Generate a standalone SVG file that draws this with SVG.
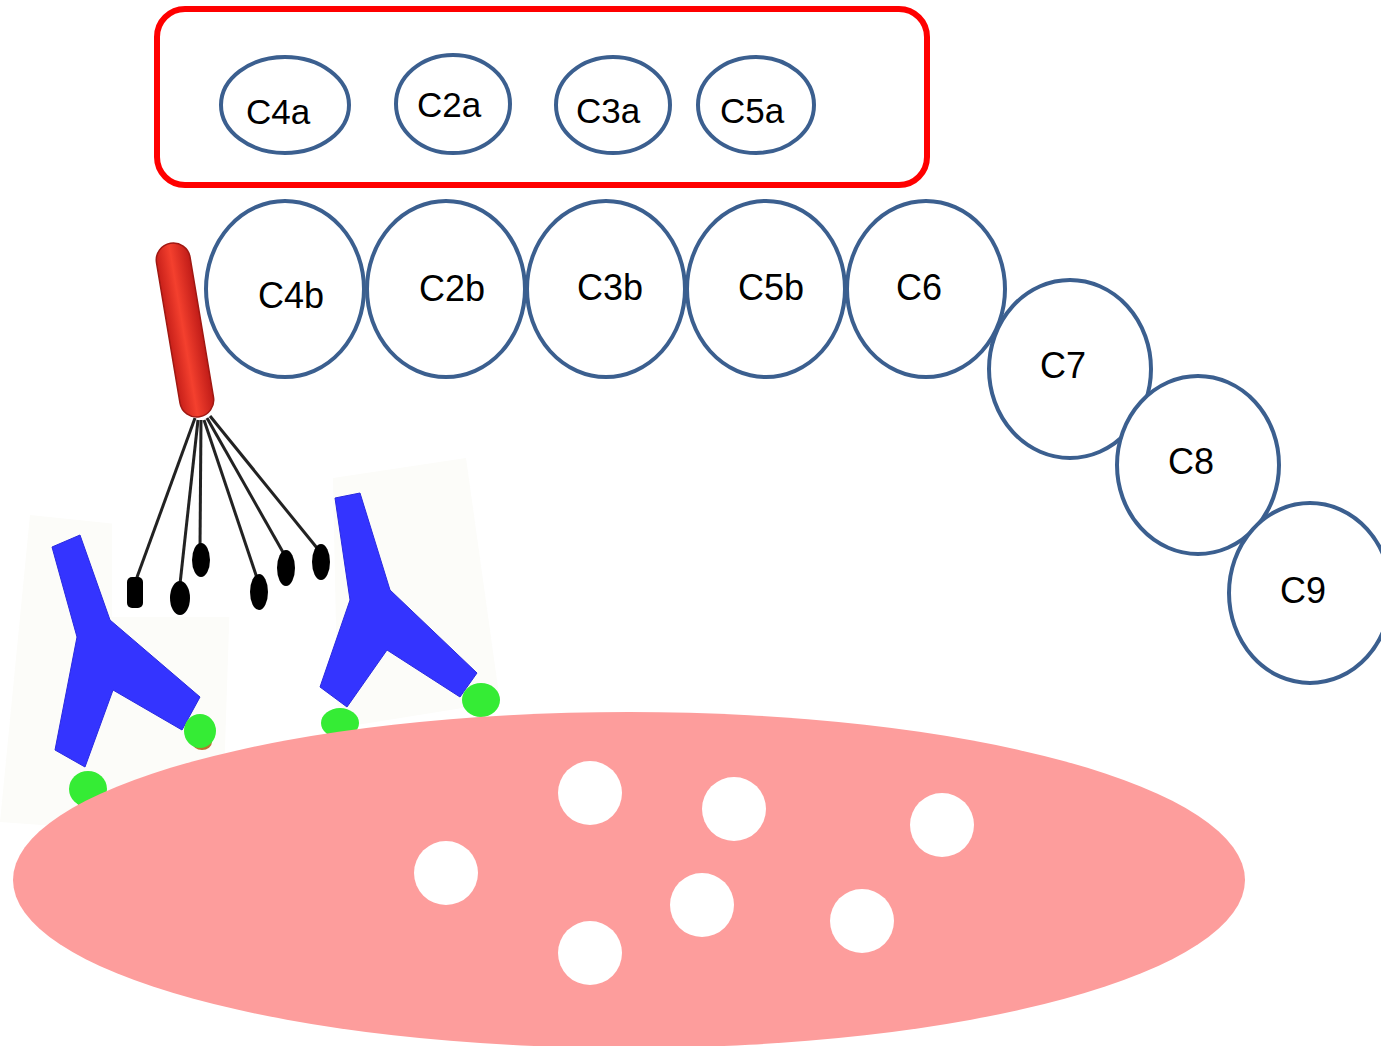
<svg xmlns="http://www.w3.org/2000/svg" width="1381" height="1046" viewBox="0 0 1381 1046">
  <style>
    .small { fill: #ffffff; stroke: #3b5f8f; stroke-width: 4; }
    .big { fill: #ffffff; stroke: #3b5f8f; stroke-width: 4; }
    .lbl { font-family: "Liberation Sans", Arial, sans-serif; font-size: 35px; fill: #000000; text-anchor: middle; }
    .lbl-b { font-size: 36px; }
    .vesicle { fill: #ffffff; }
    .patch { fill: #fcfcf9; }
    .ab { fill: #3434ff; stroke: #2a2ae0; stroke-width: 1; stroke-linejoin: round; }
    .fab-tip { fill: #35ec35; }
    .fab-base { fill: #b8742e; }
    .tentacle { stroke: #222222; stroke-width: 3; fill: none; }
    .head { fill: #000000; }
  </style>
  <defs>
    <linearGradient id="stalkFill" x1="0" y1="0" x2="1" y2="0">
      <stop offset="0" stop-color="#c8201a"/>
      <stop offset="0.45" stop-color="#f4402e"/>
      <stop offset="1" stop-color="#c01c18"/>
    </linearGradient>
    <clipPath id="c1Clip">
      <rect x="112" y="232" width="221" height="385"/>
    </clipPath>
  </defs>

  <rect width="1381" height="1046" fill="#ffffff"/>

  <!-- antibody bound to the membrane, left -->
  <g id="antibody-left">
    <polygon class="patch" points="30,515 232,536 222,838 0,822"/>
    <polygon class="ab" points="52,547 80,535 110,620 200,697 182,730 113,690 85,767 55,750 77,637"/>
    <ellipse class="fab-base" cx="92" cy="800" rx="16" ry="9"/>
    <ellipse class="fab-tip" cx="88" cy="789" rx="19" ry="18"/>
    <ellipse class="fab-base" cx="202" cy="742" rx="10" ry="8"/>
    <ellipse class="fab-tip" cx="200" cy="731" rx="16" ry="17"/>
  </g>

  <!-- antibody bound to the membrane, right -->
  <g id="antibody-right">
    <polygon class="patch" points="333,478 466,458 500,702 338,728"/>
    <polygon class="ab" points="335,498 360,493 390,590 477,673 460,697 387,650 347,707 320,687 350,600"/>
    <ellipse class="fab-base" cx="343" cy="733" rx="13" ry="7"/>
    <ellipse class="fab-tip" cx="340" cy="723" rx="19" ry="15"/>
    <ellipse class="fab-tip" cx="481" cy="700" rx="19" ry="17"/>
  </g>

  <!-- cell membrane with vesicles -->
  <g id="cell">
    <ellipse cx="629" cy="880" rx="616" ry="168" fill="#fd9d9c"/>
    <circle class="vesicle" cx="590" cy="793" r="32"/>
    <circle class="vesicle" cx="734" cy="809" r="32"/>
    <circle class="vesicle" cx="942" cy="825" r="32"/>
    <circle class="vesicle" cx="446" cy="873" r="32"/>
    <circle class="vesicle" cx="702" cy="905" r="32"/>
    <circle class="vesicle" cx="862" cy="921" r="32"/>
    <circle class="vesicle" cx="590" cy="953" r="32"/>
  </g>

  <!-- C1 complex: stalk with six globular heads -->
  <g id="c1">
    <g clip-path="url(#c1Clip)">
      <rect x="112" y="232" width="221" height="385" fill="#ffffff"/>
      <line class="tentacle" x1="195" y1="418" x2="136" y2="580"/>
      <line class="tentacle" x1="198" y1="420" x2="180" y2="584"/>
      <line class="tentacle" x1="201" y1="420" x2="200" y2="548"/>
      <line class="tentacle" x1="204" y1="420" x2="257" y2="578"/>
      <line class="tentacle" x1="207" y1="418" x2="284" y2="554"/>
      <line class="tentacle" x1="210" y1="416" x2="317" y2="548"/>
      <rect class="head" x="127" y="577" width="16" height="31" rx="5"/>
      <ellipse class="head" cx="180" cy="598" rx="10" ry="17"/>
      <ellipse class="head" cx="201" cy="560" rx="9" ry="17"/>
      <ellipse class="head" cx="259" cy="592" rx="9" ry="18"/>
      <ellipse class="head" cx="286" cy="568" rx="9" ry="18"/>
      <ellipse class="head" cx="321" cy="562" rx="9" ry="18"/>
    </g>
    <rect x="-17" y="-88" width="34" height="176" rx="17" fill="url(#stalkFill)" stroke="#a01812" stroke-width="1.5" transform="translate(185 330) rotate(-9.5)"/>
  </g>

  <!-- released small fragments -->
  <g id="fragments">
    <rect x="157" y="9" width="770" height="176" rx="28" fill="none" stroke="#ff0000" stroke-width="6"/>
  </g>
  <g id="C4a"><ellipse class="small" cx="285" cy="105" rx="64" ry="48"/><text class="lbl" x="278" y="124">C4a</text></g>
  <g id="C2a"><ellipse class="small" cx="453" cy="104" rx="57" ry="49"/><text class="lbl" x="449" y="117">C2a</text></g>
  <g id="C3a"><ellipse class="small" cx="613" cy="105" rx="57" ry="48"/><text class="lbl" x="608" y="123">C3a</text></g>
  <g id="C5a"><ellipse class="small" cx="756" cy="105" rx="58" ry="48"/><text class="lbl" x="752" y="123">C5a</text></g>

  <!-- large fragments and terminal components -->
  <g id="C4b"><ellipse class="big" cx="285" cy="289" rx="79" ry="88"/><text class="lbl lbl-b" x="291" y="308">C4b</text></g>
  <g id="C2b"><ellipse class="big" cx="446" cy="289" rx="79" ry="88"/><text class="lbl lbl-b" x="452" y="301">C2b</text></g>
  <g id="C3b"><ellipse class="big" cx="606" cy="289" rx="79" ry="88"/><text class="lbl lbl-b" x="610" y="300">C3b</text></g>
  <g id="C5b"><ellipse class="big" cx="766" cy="289" rx="79" ry="88"/><text class="lbl lbl-b" x="771" y="300">C5b</text></g>
  <g id="C6"><ellipse class="big" cx="926" cy="289" rx="79" ry="88"/><text class="lbl lbl-b" x="919" y="300">C6</text></g>
  <g id="C7"><ellipse class="big" cx="1070" cy="369" rx="81" ry="89"/><text class="lbl lbl-b" x="1063" y="378">C7</text></g>
  <g id="C8"><ellipse class="big" cx="1198" cy="465" rx="81" ry="89"/><text class="lbl lbl-b" x="1191" y="474">C8</text></g>
  <g id="C9"><ellipse class="big" cx="1310" cy="593" rx="81" ry="90"/><text class="lbl lbl-b" x="1303" y="603">C9</text></g>

  <g id="connectors"/>
</svg>
